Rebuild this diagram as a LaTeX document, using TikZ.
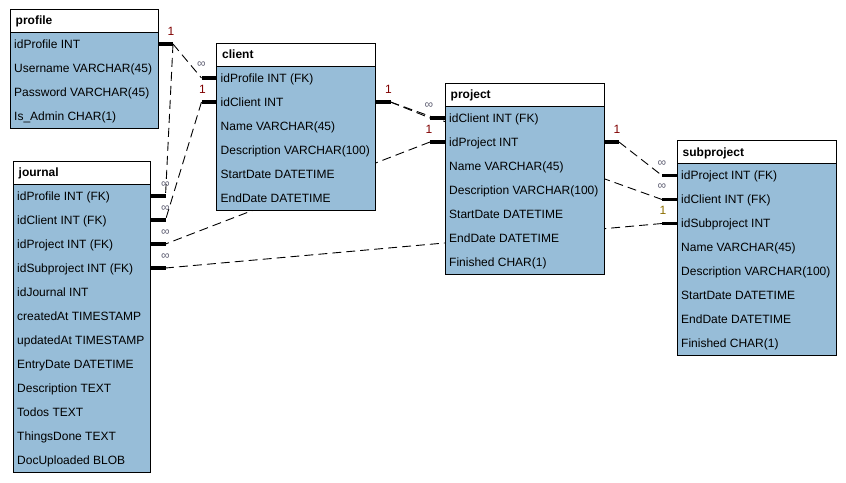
\documentclass[tikz,border=0pt]{standalone}
\usepackage{fontspec}
\setmainfont{Liberation Sans}
\usetikzlibrary{calc}
\definecolor{tblfill}{RGB}{151,189,216}
\definecolor{onered}{RGB}{128,0,0}
\definecolor{oneolive}{RGB}{140,110,0}
\definecolor{infgray}{RGB}{95,95,115}
\pgfdeclarelayer{bg}
\pgfsetlayers{bg,main}
\tikzset{
  hdrbox/.style={draw=black, fill=white, line width=1pt, inner sep=0pt, outer sep=0pt, anchor=north west},
  bodybox/.style={draw=black, fill=tblfill, line width=1pt, inner sep=0pt, outer sep=0pt, anchor=north west},
  titletext/.style={anchor=west, inner sep=0pt, text height=8.6pt, text depth=0pt, font=\fontsize{12}{14}\selectfont\bfseries},
  rowtext/.style={anchor=west, inner sep=0pt, text height=8.6pt, text depth=0pt, font=\fontsize{12}{14}\selectfont},
  stubline/.style={line width=3.6pt, black},
  rel/.style={line width=0.9pt, black, dash pattern=on 9pt off 5pt},
  onelab/.style={inner sep=0pt, text=onered, font=\fontsize{12}{14}\selectfont},
  onelabb/.style={inner sep=0pt, text=oneolive, font=\fontsize{12}{14}\selectfont},
  inflab/.style={inner sep=0pt, text=infgray, font=\fontsize{12}{14}\selectfont},
}
% #1 name, #2 left, #3 top, #4 right, #5 rows, #6 title, #7 row texts
\newcommand\dbtable[7]{%
  \pgfmathsetmacro\tblw{#4-#2}%
  \pgfmathsetmacro\tblh{24*#5}%
  \node[hdrbox, minimum width=\tblw pt, minimum height=23pt] (#1-h) at (#2,#3) {};
  \node[bodybox, minimum width=\tblw pt, minimum height=\tblh pt] (#1-b) at (#2,#3+23) {};
  \node[titletext] (#1-t) at (#2+5.5,#3+11.5) {#6};
  \foreach \txt [count=\ri] in {#7} {
    \node[rowtext] (#1-\ri) at (#2+4,#3+23+12+24*\ri-24) {\txt};
  }
}
% left stub: #1 table, #2 row, #3 coordinate name
\newcommand\stubL[3]{%
  \coordinate (#3-in) at (#1-b.west |- #1-#2);
  \coordinate (#3) at ($(#3-in)+(-15,0)$);
}
\newcommand\stubR[3]{%
  \coordinate (#3-in) at (#1-b.east |- #1-#2);
  \coordinate (#3) at ($(#3-in)+(15,0)$);
}
\begin{document}
\begin{tikzpicture}[x=1pt,y=-1pt]
\useasboundingbox (0,0) rectangle (846,482);
\dbtable{p}{10}{9}{158}{4}{profile}{idProfile INT,Username VARCHAR(45),Password VARCHAR(45),Is\_Admin CHAR(1)}
\dbtable{c}{216.5}{43}{375.5}{6}{client}{idProfile INT (FK),idClient INT,Name VARCHAR(45),Description VARCHAR(100),StartDate DATETIME,EndDate DATETIME}
\dbtable{pr}{445}{83}{604}{7}{project}{idClient INT (FK),idProject INT,Name VARCHAR(45),Description VARCHAR(100),StartDate DATETIME,EndDate DATETIME,Finished CHAR(1)}
\dbtable{s}{677}{140.5}{836}{8}{subproject}{idProject INT (FK),idClient INT (FK),idSubproject INT,Name VARCHAR(45),Description VARCHAR(100),StartDate DATETIME,EndDate DATETIME,Finished CHAR(1)}
\dbtable{j}{13}{161}{150.5}{12}{journal}{idProfile INT (FK),idClient INT (FK),idProject INT (FK),idSubproject INT (FK),idJournal INT,createdAt TIMESTAMP,updatedAt TIMESTAMP,EntryDate DATETIME,Description TEXT,Todos TEXT,ThingsDone TEXT,DocUploaded BLOB}
% stub end points
\stubR{p}{1}{pProfR}
\stubL{c}{1}{cProfL}
\stubL{c}{2}{cCliL}
\stubR{c}{2}{cCliR}
\stubL{pr}{1}{prCliL}
\stubL{pr}{2}{prProjL}
\stubR{pr}{2}{prProjR}
\stubL{s}{1}{sProjL}
\stubL{s}{2}{sCliL}
\stubL{s}{3}{sSubL}
\stubR{j}{1}{jProfR}
\stubR{j}{2}{jCliR}
\stubR{j}{3}{jProjR}
\stubR{j}{4}{jSubR}
% relationship lines (behind tables)
\begin{pgfonlayer}{bg}
  \draw[rel] (pProfR) -- (cProfL);
  \draw[rel] (pProfR) -- (jProfR);
  \draw[rel] (cCliL) -- (jCliR);
  \draw[rel] (cCliR) -- (prCliL);
  \draw[rel] (cCliR) -- (sCliL);
  \draw[rel] (prProjL) -- (jProjR);
  \draw[rel] (prProjR) -- (sProjL);
  \draw[rel] (sSubL) -- (jSubR);
\end{pgfonlayer}
% stubs
\foreach \s in {pProfR,cProfL,cCliL,cCliR,prCliL,prProjL,prProjR,sProjL,sCliL,sSubL,jProfR,jCliR,jProjR,jSubR}
  \draw[stubline] (\s-in) -- (\s);
% cardinality labels
\node[onelab] (l1) at ($(pProfR)+(-2,-13)$) {1};
\node[inflab] (l2) at ($(cProfL)+(0,-13)$) {∞};
\node[onelab] (l3) at ($(cCliL)+(1,-13)$) {1};
\node[onelab] (l4) at ($(cCliR)+(-2,-13)$) {1};
\node[inflab] (l5) at ($(prCliL)+(-1,-12)$) {∞};
\node[onelab] (l6) at ($(prProjL)+(-1,-13)$) {1};
\node[onelab] (l7) at ($(prProjR)+(-2,-13)$) {1};
\node[inflab] (l8) at ($(sProjL)+(0,-12)$) {∞};
\node[inflab] (l9) at ($(sCliL)+(0,-13)$) {∞};
\node[onelabb] (l10) at ($(sSubL)+(1,-13)$) {1};
\node[inflab] (l11) at ($(jProfR)+(0,-11)$) {∞};
\node[inflab] (l12) at ($(jCliR)+(0,-11)$) {∞};
\node[inflab] (l13) at ($(jProjR)+(0,-11)$) {∞};
\node[inflab] (l14) at ($(jSubR)+(0,-11)$) {∞};
\end{tikzpicture}
\end{document}
